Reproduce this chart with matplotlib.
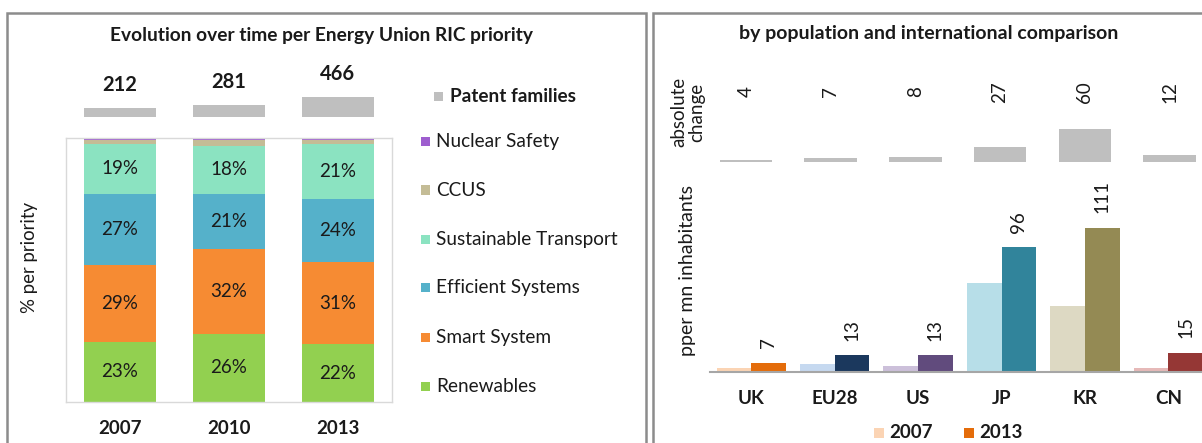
import matplotlib
matplotlib.use("Agg")
import matplotlib.pyplot as plt
from matplotlib.patches import Rectangle

plt.rcParams['font.family'] = ['Lato', 'DejaVu Sans']

# ---------------- data ----------------
years = ['2007', '2010', '2013']
patent_families = [212, 281, 466]

priorities = ['Renewables', 'Smart System', 'Efficient Systems',
              'Sustainable Transport', 'CCUS', 'Nuclear Safety']
share_renewables = [23, 26, 22]
share_smart = [29, 32, 31]
share_efficient = [27, 21, 24]
share_transport = [19, 18, 21]
share_ccus = [1.5, 2.2, 1.4]
share_nuclear = [0.5, 0.8, 0.6]

countries = ['UK', 'EU28', 'US', 'JP', 'KR', 'CN']
per_mn_2007 = [3, 6, 5, 69, 51, 3]
per_mn_2013 = [7, 13, 13, 96, 111, 15]
abs_change = [4, 7, 8, 27, 60, 12]

# ---------------- styling ----------------
prio_colors = ['#92D050', '#F68B33', '#55B1CA', '#8BE3C1', '#C4BC96', '#9E5ECF']
gray = '#BFBFBF'
light_colors = ['#FBD4B4', '#C6D9F0', '#CCC0DA', '#B7DEE8', '#DDD9C3', '#E6B9B8']
dark_colors = ['#E46C0A', '#1B385D', '#614B7D', '#31849B', '#948A54', '#953735']
txt = '#1a1a1a'

W, H = 1202, 443
fig = plt.figure(figsize=(W / 100, H / 100), dpi=100)


def px_axes(left, top, right, bottom):
    a = fig.add_axes([left / W, 1 - bottom / H, (right - left) / W, (bottom - top) / H])
    a.patch.set_visible(False)
    return a


def fx(x):
    return x / W


def fy(y):
    return 1 - y / H


# panel frames
for (l, t, r, b) in [(7, 13, 646, 460), (653, 13, 1260, 460)]:
    fig.patches.append(Rectangle((fx(l), fy(b)), fx(r - l), (b - t) / H,
                                 transform=fig.transFigure, fill=False,
                                 edgecolor='#8C8C8C', linewidth=1.8, zorder=0))

# ---------------- left panel ----------------
fig.text(fx(321), fy(36), 'Evolution over time per Energy Union RIC priority',
         ha='center', va='center', fontsize=13.8, fontweight='bold', color=txt)

ax = px_axes(65.6, 138.3, 392, 402.3)
x = list(range(len(years)))
series = [share_renewables, share_smart, share_efficient, share_transport,
          share_ccus, share_nuclear]
bottom = [0.0] * len(years)
for vals, col, name in zip(series, prio_colors, priorities):
    ax.bar(x, vals, width=0.66, bottom=bottom, color=col, linewidth=0)
    if name in ('Renewables', 'Smart System', 'Efficient Systems', 'Sustainable Transport'):
        for xi, v, b0 in zip(x, vals, bottom):
            ax.text(xi, b0 + v / 2, f'{v:.0f}%', ha='center', va='center',
                    fontsize=13.5, color=txt)
    bottom = [b0 + v for b0, v in zip(bottom, vals)]
ax.set_xlim(-0.5, 2.5)
ax.set_ylim(0, 100)
ax.set_yticks([])
ax.set_xticks(x, years, fontsize=13.5, fontweight='bold', color=txt)
ax.tick_params(axis='x', length=0, pad=13)
for s in ax.spines.values():
    s.set_color('#D9D9D9')
    s.set_linewidth(1)

fig.text(fx(29), fy(257), '% per priority', rotation=90, ha='center', va='center',
         fontsize=13.4, color=txt)

# patent families totals
axp = px_axes(65.6, 40, 392, 117.3)
axp.bar(x, patent_families, width=0.66, color=gray, linewidth=0)
axp.set_xlim(-0.5, 2.5)
axp.set_ylim(0, (117.3 - 40) / 0.0443)
axp.axis('off')
for xi, v in zip(x, patent_families):
    axp.annotate(str(v), (xi, v), xytext=(0, 16.3), textcoords='offset points',
                 ha='center', va='center', fontsize=14.5, fontweight='bold', color=txt)

# legend
legend_rows = [('Patent families', gray, 96.7, True)] + [
    (name, col, y, False) for name, col, y in zip(
        priorities[::-1], prio_colors[::-1], [141.7, 190, 239.3, 287.3, 337.3, 386.7])]
for name, col, y, bold in legend_rows:
    sx = 434 if bold else 420.5
    fig.patches.append(Rectangle((fx(sx), fy(y + 4.7)), fx(9.4), 9.4 / H,
                                 transform=fig.transFigure, color=col, linewidth=0))
    fig.text(fx(sx + 15.5), fy(y), name, ha='left', va='center', fontsize=13.7,
             fontweight='bold' if bold else 'normal', color=txt)

# ---------------- right panel ----------------
fig.text(fx(929), fy(33), 'by population and international comparison',
         ha='center', va='center', fontsize=14, fontweight='bold', color=txt)

xc = list(range(len(countries)))

# absolute change
axa = px_axes(703.6, 40, 1211.9, 161.7)
axa.bar(xc, abs_change, width=0.62, color=gray, linewidth=0)
axa.set_xlim(-0.5, 5.5)
axa.set_ylim(0, (161.7 - 40) / 0.54)
axa.axis('off')
for xi, v in zip(xc, abs_change):
    axa.text(xi, (161.7 - 92) / 0.54, str(v), rotation=90, ha='center', va='center',
             fontsize=13.5, color=txt)
fig.text(fx(688), fy(112), 'absolute\nchange', rotation=90, ha='center', va='center',
         fontsize=13.5, color=txt, linespacing=1.1)

# per million inhabitants
axb = px_axes(709.6, 170, 1210, 372)
w = 0.415
axb.bar([i - w / 2 for i in xc], per_mn_2007, width=w, color=light_colors, linewidth=0)
axb.bar([i + w / 2 for i in xc], per_mn_2013, width=w, color=dark_colors, linewidth=0)
for xi, v in zip(xc, per_mn_2013):
    axb.annotate(str(v), (xi + w / 2, v), xytext=(0, 10.5), textcoords='offset points',
                 rotation=90, ha='center', va='bottom', fontsize=13.5, color=txt)
axb.set_xlim(-0.5, 5.5)
axb.set_ylim(0, (372 - 170) / 1.297)
axb.set_yticks([])
axb.set_xticks(xc, countries, fontsize=13.5, fontweight='bold', color=txt)
axb.tick_params(axis='x', length=0, pad=13)
for side in ('top', 'right', 'left'):
    axb.spines[side].set_visible(False)
axb.spines['bottom'].set_color('#A6A6A6')
axb.spines['bottom'].set_linewidth(1.5)

fig.text(fx(687), fy(271), 'pper mn inhabitants', rotation=90, ha='center', va='center',
         fontsize=14, color=txt)

# year legend
for label, col, sx in [('2007', light_colors[0], 873.6), ('2013', dark_colors[0], 964)]:
    fig.patches.append(Rectangle((fx(sx), fy(438)), fx(10), 10 / H,
                                 transform=fig.transFigure, color=col, linewidth=0))
    fig.text(fx(sx + 15.5), fy(433), label, ha='left', va='center', fontsize=13.5,
             fontweight='bold', color=txt)

fig.savefig('out.png', dpi=100)
